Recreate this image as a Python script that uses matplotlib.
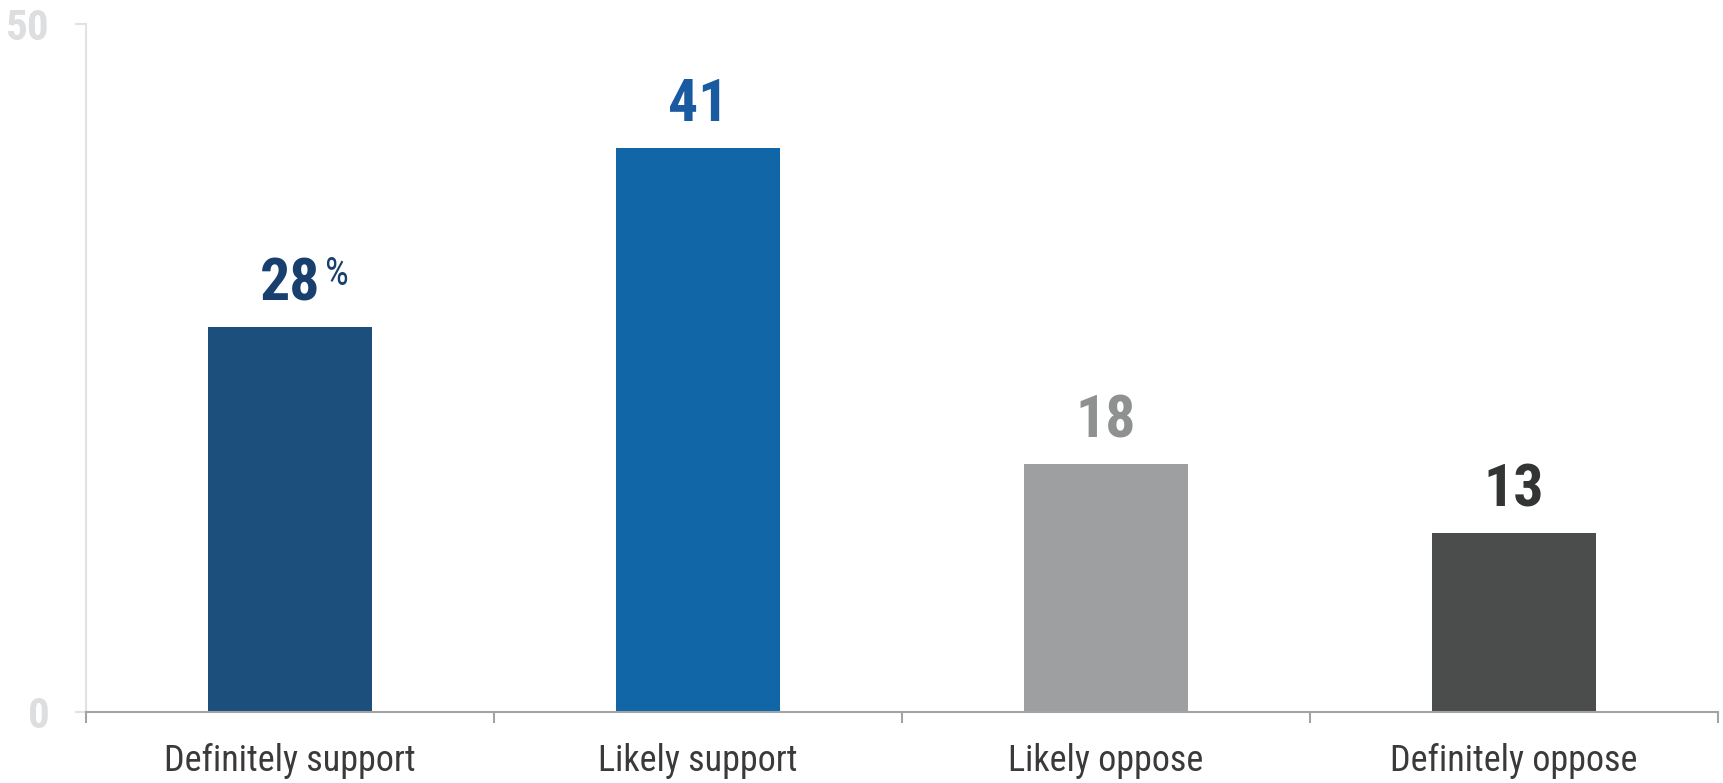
import matplotlib
matplotlib.use("Agg")
import matplotlib.pyplot as plt
from matplotlib import font_manager

categories = ["Definitely support", "Likely support", "Likely oppose", "Definitely oppose"]
values = [28, 41, 18, 13]
value_labels = ["28", "41", "18", "13"]
bar_colors = ["#1d4f7c", "#1166a8", "#9d9fa0", "#4b4d4d"]
label_colors = ["#183f6e", "#1a5aa0", "#8f9191", "#333535"]
y_ticks = [0, 50]

names = {f.name for f in font_manager.fontManager.ttflist}
fam = [n for n in ["Roboto Condensed", "Liberation Sans Narrow", "Open Sans Condensed", "Roboto", "DejaVu Sans"] if n in names]
plt.rcParams['font.family'] = fam

W, H = 1723, 783
fig = plt.figure(figsize=(W / 100, H / 100), dpi=100)
ax = fig.add_axes([86 / W, (H - 712) / H, (1718 - 86) / W, (712 - 24) / H])

x = list(range(len(categories)))
ax.bar(x, values, width=0.40, color=bar_colors, zorder=2)
ax.set_xlim(-0.5, len(categories) - 0.5)
ax.set_ylim(0, 50)

for i, (v, t, c) in enumerate(zip(values, value_labels, label_colors)):
    ax.annotate(t, (i, v), xytext=(0, 19), textcoords="offset points",
                ha="center", va="baseline", fontsize=43, fontweight="bold", color=c)
    if i == 0:
        ax.annotate("%", (i, v), xytext=(25, 30), textcoords="offset points",
                    ha="left", va="baseline", fontsize=27, color=c)

for s in ["top", "right"]:
    ax.spines[s].set_visible(False)
ax.spines["left"].set_color("#e1e3e3")
ax.spines["left"].set_linewidth(1.5)
ax.spines["bottom"].set_color("#a3a3a3")
ax.spines["bottom"].set_linewidth(1.5)

ax.set_yticks(y_ticks)
ax.set_yticklabels([str(t) for t in y_ticks], fontsize=31, fontweight="bold", color="#dcdedf")
ax.tick_params(axis="y", length=8, width=1.5, color="#e1e3e3", pad=18)

ax.set_xticks(x)
ax.set_xticklabels(categories, fontsize=26, color="#3a3a3a")
ax.tick_params(axis="x", which="major", length=0, pad=22)
ax.set_xticks([i - 0.5 for i in range(len(categories) + 1)], minor=True)
ax.tick_params(axis="x", which="minor", length=8, width=1.5, color="#a3a3a3")

fig.savefig("out.png", dpi=100)
